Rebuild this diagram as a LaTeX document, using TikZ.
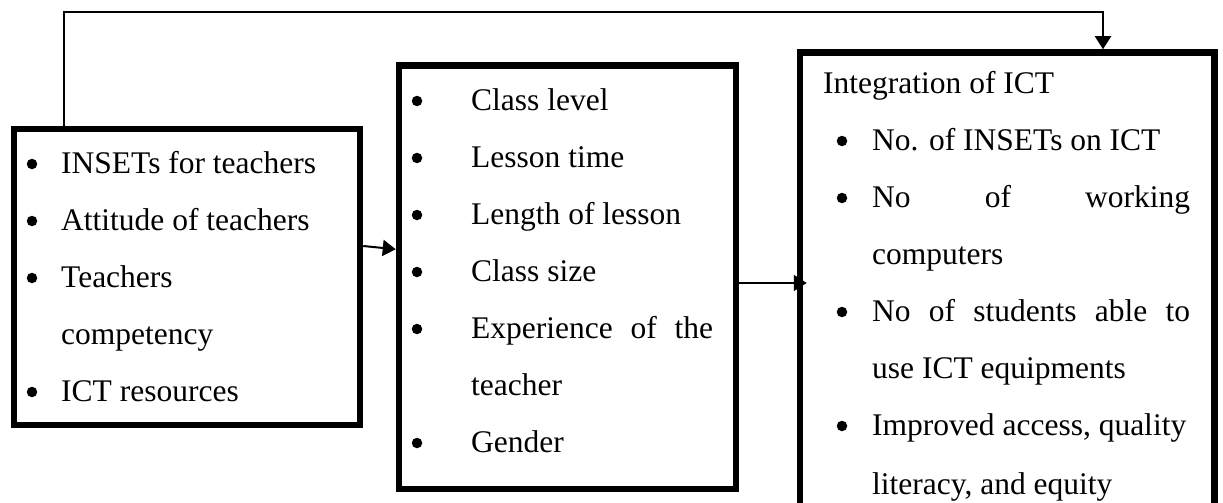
\documentclass[tikz,border=0pt]{standalone}
\usepackage{fontspec}
\setmainfont{Liberation Serif}
\usetikzlibrary{arrows.meta}
\begin{document}
\begin{tikzpicture}[x=1pt,y=-1pt,
  box/.style={draw, line width=6.5pt, inner sep=0pt, minimum width=#1},
  line/.style={anchor=base west, inner sep=0pt, font=\fontsize{31.5}{37}\selectfont},
  bul/.style={circle, fill, inner sep=0pt, minimum size=10.5pt},
  conn/.style={line width=2pt, -{Triangle[length=13pt,width=16pt]}}]
\useasboundingbox (0,0) rectangle (1223,503);

% the three boxes
\node[box=346pt, minimum height=296pt] (b1) at (187,277) {};
\node[box=337pt, minimum height=423.5pt] (b2) at (567.5,277.25) {};
\node[box=414.5pt, minimum height=467.5pt] (b3) at (1007.25,286.25) {};

% left box
\node[bul] (b1d1) at (32,164) {};
\node[line] (b1t1) at (61,173) {INSETs for teachers};
\node[bul] (b1d2) at (32,221) {};
\node[line] (b1t2) at (61,230) {Attitude of teachers};
\node[bul] (b1d3) at (32,278) {};
\node[line] (b1t3) at (61,287) {Teachers};
\node[line] (b1t4) at (61,344) {competency};
\node[bul] (b1d5) at (32,392) {};
\node[line] (b1t5) at (61,401) {ICT resources};

% middle box
\node[bul] (b2d1) at (417,101) {};
\node[line] (b2t1) at (471,110) {Class level};
\node[bul] (b2d2) at (417,158) {};
\node[line] (b2t2) at (471,167) {Lesson time};
\node[bul] (b2d3) at (417,215) {};
\node[line] (b2t3) at (471,224) {Length of lesson};
\node[bul] (b2d4) at (417,272) {};
\node[line] (b2t4) at (471,281) {Class size};
\node[bul] (b2d5) at (417,329) {};
\node[line] (b2t5) at (471,338) {\makebox[242pt][s]{Experience of the}};
\node[line] (b2t6) at (471,395) {teacher};
\node[bul] (b2d7) at (417,443) {};
\node[line] (b2t7) at (471,452) {Gender};

% right box
\node[line] (b3h) at (823,93) {Integration of ICT};
\node[bul] (b3d1) at (842,141) {};
\node[line] (b3t1) at (872,150) {No. of INSETs on ICT};
\node[bul] (b3d2) at (842,198) {};
\node[line] (b3t2) at (872,207) {\makebox[318pt][s]{No of working}};
\node[line] (b3t3) at (872,264) {computers};
\node[bul] (b3d4) at (842,312) {};
\node[line] (b3t4) at (872,321) {\makebox[318pt][s]{No of students able to}};
\node[line] (b3t5) at (872,378) {use ICT equipments};
\node[bul] (b3d6) at (842,426) {};
\node[line] (b3t6) at (872,435) {Improved access, quality};
\node[line] (b3t7) at (872,494) {literacy, and equity};

% connectors
\coordinate (up1) at (64,12);
\coordinate (up2) at (1103,12);
\draw[conn] (b1.north -| up1) -- (up1) -- (up2) -- (b3.north -| up2);
\draw[conn] ([yshift=31pt]b1.east) -- ([yshift=28pt]b2.west);
\draw[conn, shorten >=-10pt] ([yshift=-5.75pt]b2.east) coordinate (m2) -- (m2 -| b3.west);
\end{tikzpicture}
\end{document}
